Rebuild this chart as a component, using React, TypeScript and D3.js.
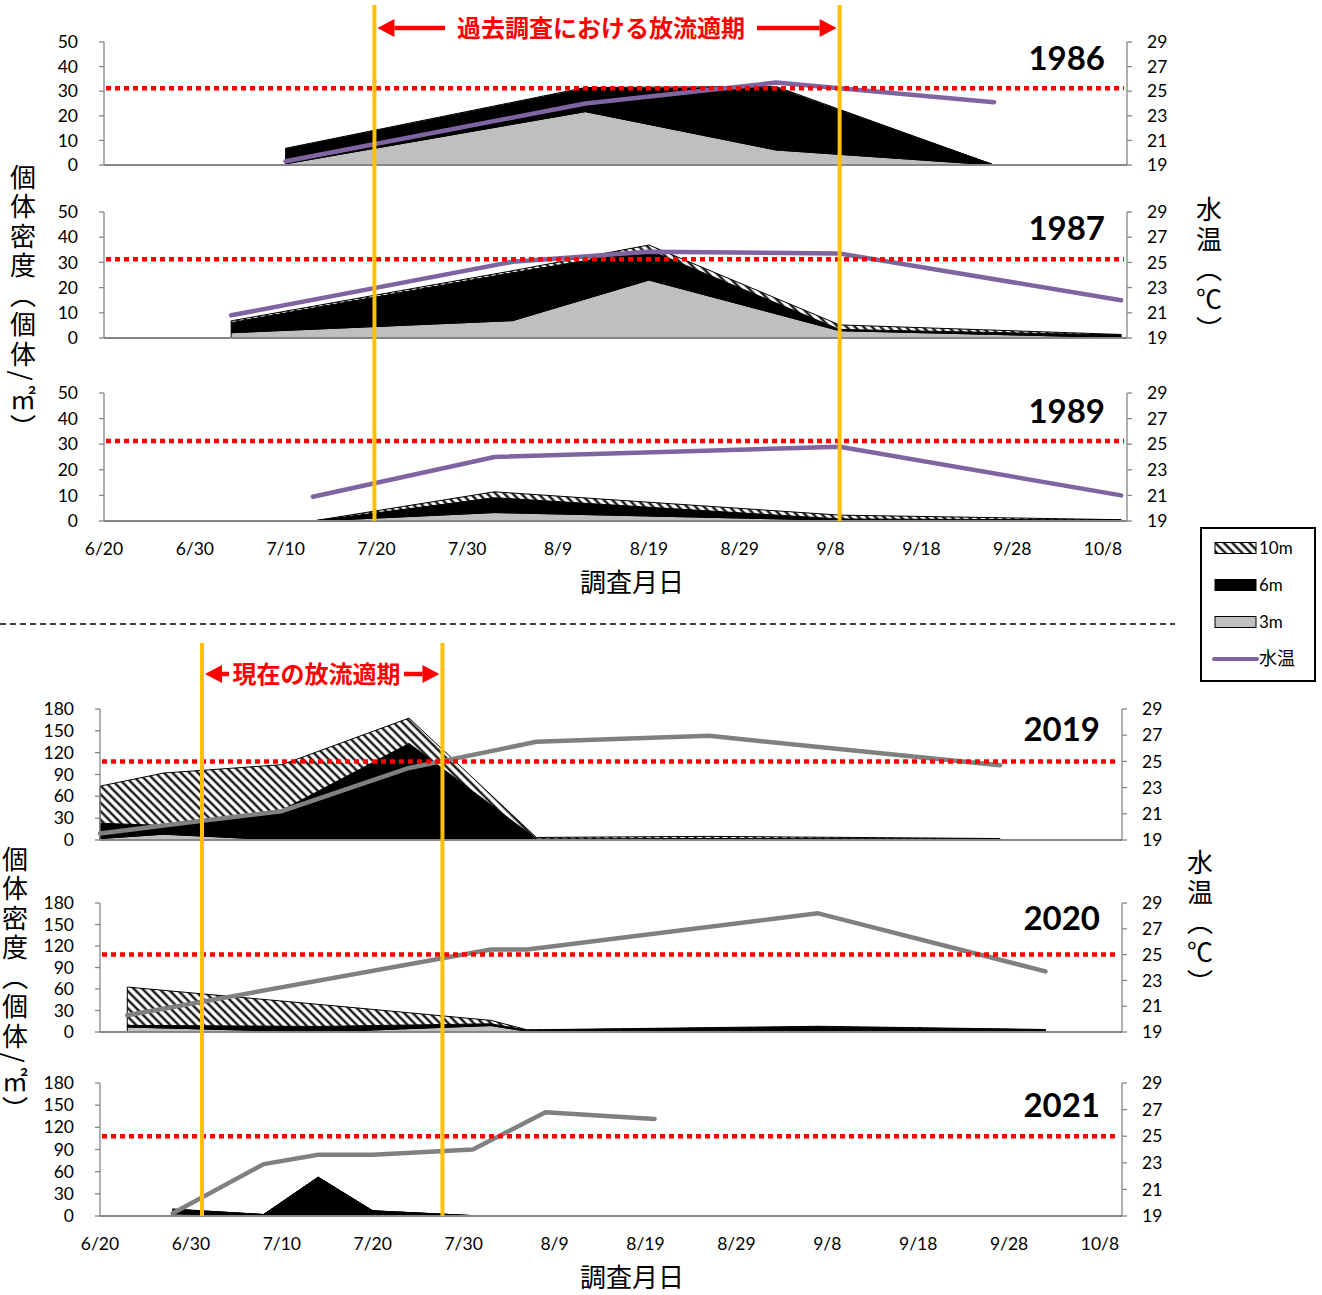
import React from 'react';
import * as d3 from 'd3';

const parseMD = d3.timeParse('%m/%d');
const fmtMD = d3.timeFormat('%-m/%-d');

// axis ticks
const dateTicks = ['6/20', '6/30', '7/10', '7/20', '7/30', '8/9', '8/19', '8/29', '9/8', '9/18', '9/28', '10/8'];
const oldDensTicks = [0, 10, 20, 30, 40, 50];
const newDensTicks = [0, 30, 60, 90, 120, 150, 180];
const tempTicks = [19, 21, 23, 25, 27, 29];
// 25 degree guide (drawn by hand in the original, a touch high in the old panels)
const oldTempRef = 25.25;
const newTempRef = 25;

// release periods
const pastPeriod = ['7/20', '9/9'];
const currentPeriod = ['7/1', '7/28'];

// 1986
const dates1986 = ['7/10', '8/12', '9/2', '9/26'];
const m3_1986 = [0.5, 21.7, 6.1, 0];
const m6_1986 = [6, 9.4, 25.3, 0];
const m10_1986 = [0.3, 0.4, 0.5, 0];
const temp1986 = [19.3, 24.0, 25.7, 24.1];

// 1987
const dates1987 = ['7/4', '8/4', '8/19', '9/9', '10/10'];
const m3_1987 = [2.1, 6.9, 23, 2.9, 0.2];
const m6_1987 = [4.0, 19, 11.9, 0.5, 1.0];
const m10_1987 = [0.7, 0.8, 2.0, 1.8, 0.2];
const temp1987 = [20.8, 25.05, 25.85, 25.7, 22.0];

// 1989
const dates1989 = ['7/13', '8/2', '9/9', '10/10'];
const m3_1989 = [0, 3.3, 0.3, 0.1];
const m6_1989 = [0, 5.8, 0.5, 0.3];
const m10_1989 = [0, 2.3, 1.5, 0.1];
const temp1989 = [20.9, 24.0, 24.8, 21.0];

// 2019
const dates2019 = ['6/20', '6/27', '7/10', '7/24', '8/7', '8/26', '9/27'];
const m3_2019 = [2, 8, 0, 0, 0.5, 0.5, 0.3];
const m6_2019 = [21, 12, 40.8, 132.7, 1, 1.5, 1.2];
const m10_2019 = [51, 72, 62.7, 34.8, 2, 3, 0.5];
const temp2019 = [19.5, 20.1, 21.2, 24.5, 26.5, 26.95, 24.7];

// 2020
const dates2020 = ['6/23', '7/14', '8/2', '8/6', '9/7', '10/2'];
const m3_2020 = [7, 0, 9, 1, 2, 1];
const m6_2020 = [2.3, 7.8, 2.5, 1.5, 5, 2];
const m10_2020 = [53.4, 30.8, 4.7, 0.5, 1, 0.5];
const tempDates2020 = ['6/23', '8/2', '8/6', '9/7', '10/2'];
const temp2020 = [20.3, 25.4, 25.4, 28.2, 23.7];

// 2021
const dates2021 = ['6/28', '7/8', '7/14', '7/20', '7/31', '8/8', '8/20'];
const m3_2021 = [3, 0, 0, 0, 0, 0, 0];
const m6_2021 = [6, 2, 52.5, 7, 0.5, 0, 0];
const m10_2021 = [0.5, 0, 0, 0, 0, 0, 0];
const temp2021 = [19.2, 22.9, 23.6, 23.6, 24.0, 26.8, 26.3];

const oldYears = [
  { year: '1986', dates: dates1986, m3: m3_1986, m6: m6_1986, m10: m10_1986, tempDates: dates1986, temp: temp1986 },
  { year: '1987', dates: dates1987, m3: m3_1987, m6: m6_1987, m10: m10_1987, tempDates: dates1987, temp: temp1987 },
  { year: '1989', dates: dates1989, m3: m3_1989, m6: m6_1989, m10: m10_1989, tempDates: dates1989, temp: temp1989 },
];
const newYears = [
  { year: '2019', dates: dates2019, m3: m3_2019, m6: m6_2019, m10: m10_2019, tempDates: dates2019, temp: temp2019 },
  { year: '2020', dates: dates2020, m3: m3_2020, m6: m6_2020, m10: m10_2020, tempDates: tempDates2020, temp: temp2020 },
  { year: '2021', dates: dates2021, m3: m3_2021, m6: m6_2021, m10: m10_2021, tempDates: dates2021, temp: temp2021 },
];

const NUM_FONT = "Lato, 'Noto Sans', sans-serif";
const JP_FONT = "'Noto Sans CJK JP', sans-serif";
const AXIS_GREY = '#868686';
const PURPLE = '#8064A2';
const GREY_LINE = '#808080';

function Panel({ xs, x0, x1, top, bottom, densMax, densTicks, d, tempColor, yearDy, tempRef }) {
  const y = d3.scaleLinear().domain([0, densMax]).range([bottom, top]);
  const yT = d3.scaleLinear().domain([19, 29]).range([bottom, top]);

  const rows = d.dates.map((s, i) => ({ date: parseMD(s), m3: d.m3[i], m6: d.m6[i], m10: d.m10[i] }));
  const series = d3.stack().keys(['m3', 'm6', 'm10'])(rows);
  const area = d3.area()
    .x(p => xs(p.data.date))
    .y0(p => y(p[0]))
    .y1(p => y(p[1]));
  const fills = ['#BFBFBF', '#000', 'url(#hatch)'];

  const tempLine = d3.line()
    .x(p => xs(parseMD(p[0])))
    .y(p => yT(p[1]));
  const tempPts = d.tempDates.map((s, i) => [s, d.temp[i]]);

  return (
    <g>
      {series.map((s, i) => (
        <path key={i} d={area(s)} fill={fills[i]} stroke="#000" strokeWidth={1} strokeLinejoin="round" />
      ))}
      <path d={tempLine(tempPts)} fill="none" stroke={tempColor} strokeWidth={4.5} strokeLinejoin="round" strokeLinecap="round" />

      {/* left axis */}
      <line x1={x0} x2={x0} y1={top} y2={bottom} stroke={AXIS_GREY} strokeWidth={1.3} />
      {densTicks.map(t => (
        <g key={t}>
          <line x1={x0 - 5} x2={x0} y1={y(t)} y2={y(t)} stroke={AXIS_GREY} strokeWidth={1.3} />
          <text x={x0 - 26} y={y(t)} dy="0.35em" textAnchor="end" fontSize={17.5} fontFamily={NUM_FONT} fill="#000">{t}</text>
        </g>
      ))}
      {/* right axis */}
      <line x1={x1} x2={x1} y1={top} y2={bottom} stroke={AXIS_GREY} strokeWidth={1.3} />
      {tempTicks.map(t => (
        <g key={t}>
          <line x1={x1} x2={x1 + 5} y1={yT(t)} y2={yT(t)} stroke={AXIS_GREY} strokeWidth={1.3} />
          <text x={x1 + 20} y={yT(t)} dy="0.35em" fontSize={17.5} fontFamily={NUM_FONT} fill="#000">{t}</text>
        </g>
      ))}
      {/* bottom axis */}
      <line x1={x0} x2={x1} y1={bottom} y2={bottom} stroke={AXIS_GREY} strokeWidth={2} />

      {/* 25 degree reference */}
      <line x1={x0 + 2} x2={x1 - 3} y1={yT(tempRef)} y2={yT(tempRef)} stroke="#FF0000" strokeWidth={4.5} strokeDasharray="5 4" />

      <text x={x1 - 22} y={top + yearDy} dy="0.35em" textAnchor="end" fontSize={33} fontWeight="bold" fontFamily={NUM_FONT} fill="#000">{d.year}</text>
    </g>
  );
}

function Arrow({ from, to, y }) {
  const dir = to > from ? 1 : -1;
  const hl = 17;
  return (
    <g>
      <line x1={from} x2={to - dir * hl} y1={y} y2={y} stroke="#FF0000" strokeWidth={4.5} />
      <path d={`M${to},${y} L${to - dir * hl},${y - 9} L${to - dir * hl},${y + 9} Z`} fill="#FF0000" />
    </g>
  );
}

function Group({ xs, x0, x1, panels, years, densMax, densTicks, tempColor, tempRef, tickY, titleY, leftTitleX, leftTitleY, rightTitleX, rightTitleY }) {
  return (
    <g>
      {years.map((d, i) => (
        <Panel key={d.year} xs={xs} x0={x0} x1={x1} top={panels[i].top} bottom={panels[i].bottom}
          densMax={densMax} densTicks={densTicks} d={d} tempColor={tempColor} yearDy={panels[i].yearDy} tempRef={tempRef} />
      ))}
      {dateTicks.map(t => (
        <text key={t} x={xs(parseMD(t))} y={tickY} dy="0.35em" textAnchor="middle" fontSize={17.5} fontFamily={NUM_FONT} fill="#000">{fmtMD(parseMD(t))}</text>
      ))}
      <text x={632} y={titleY} dy="0.35em" textAnchor="middle" fontSize={26} fontFamily={JP_FONT} fill="#000">調査月日</text>
      <text x={leftTitleX} y={leftTitleY} fontSize={26} letterSpacing={3.5} fontFamily={JP_FONT} fill="#000" style={{ writingMode: 'vertical-rl' }}>個体密度（個体/㎡）</text>
      <text x={rightTitleX} y={rightTitleY} fontSize={26} letterSpacing={4} fontFamily={JP_FONT} fill="#000" style={{ writingMode: 'vertical-rl' }}>水温（℃）</text>
    </g>
  );
}

export default function App() {
  const start = parseMD('6/20');
  const end = parseMD('10/8');
  const xTop = d3.scaleTime().domain([start, end]).range([104, 1103]);
  const xBot = d3.scaleTime().domain([start, end]).range([100, 1100]);

  const pastL = xTop(parseMD(pastPeriod[0])) - 2;
  const pastR = xTop(parseMD(pastPeriod[1]));
  const curL = xBot(parseMD(currentPeriod[0])) + 2;
  const curR = xBot(parseMD(currentPeriod[1])) - 3;

  return (
    <svg width={1322} height={1295} style={{ position: 'absolute', left: 0, top: 0, background: '#fff' }}>
      <defs>
        <pattern id="hatch" width={6} height={6} patternUnits="userSpaceOnUse" patternTransform="rotate(-45)">
          <rect width={6} height={6} fill="#fff" />
          <line x1={1.5} x2={1.5} y1={0} y2={6} stroke="#000" strokeWidth={2.2} />
        </pattern>
      </defs>
      <rect width={1322} height={1295} fill="#fff" />

      <Group xs={xTop} x0={104} x1={1127}
        panels={[{ top: 42, bottom: 165, yearDy: 16 }, { top: 212, bottom: 338, yearDy: 16 }, { top: 393, bottom: 521, yearDy: 18 }]}
        years={oldYears} densMax={50} densTicks={oldDensTicks} tempColor={PURPLE} tempRef={oldTempRef}
        tickY={549} titleY={583} leftTitleX={23} leftTitleY={164} rightTitleX={1209} rightTitleY={196} />

      <line x1={0} x2={1175} y1={624} y2={624} stroke="#000" strokeWidth={1.3} strokeDasharray="6 4" />

      <Group xs={xBot} x0={100} x1={1122}
        panels={[{ top: 709, bottom: 840, yearDy: 20 }, { top: 903, bottom: 1032, yearDy: 15 }, { top: 1083, bottom: 1216, yearDy: 22 }]}
        years={newYears} densMax={180} densTicks={newDensTicks} tempColor={GREY_LINE} tempRef={newTempRef}
        tickY={1244} titleY={1278} leftTitleX={15} leftTitleY={846} rightTitleX={1200} rightTitleY={849} />

      {/* release period markers */}
      <line x1={pastL} x2={pastL} y1={5} y2={521} stroke="#FFC000" strokeWidth={4} />
      <line x1={pastR} x2={pastR} y1={5} y2={521} stroke="#FFC000" strokeWidth={4} />
      <Arrow from={445} to={pastL + 3} y={28} />
      <Arrow from={757} to={pastR - 3} y={28} />
      <text x={(445 + 757) / 2} y={28} dy="0.36em" textAnchor="middle" fontSize={24} fontWeight="bold" fontFamily={JP_FONT} fill="#FF0000">過去調査における放流適期</text>

      <line x1={curL} x2={curL} y1={643} y2={1216} stroke="#FFC000" strokeWidth={4} />
      <line x1={curR} x2={curR} y1={643} y2={1216} stroke="#FFC000" strokeWidth={4} />
      <Arrow from={229} to={curL + 3} y={674} />
      <Arrow from={404} to={curR - 3} y={674} />
      <text x={(229 + 404) / 2} y={674} dy="0.36em" textAnchor="middle" fontSize={24} fontWeight="bold" fontFamily={JP_FONT} fill="#FF0000">現在の放流適期</text>

      {/* legend */}
      <g>
        <rect x={1201} y={528} width={114} height={153} fill="#fff" stroke="#000" strokeWidth={2} />
        {[
          { label: '10m', fill: 'url(#hatch)', cy: 548 },
          { label: '6m', fill: '#000', cy: 585 },
          { label: '3m', fill: '#BFBFBF', cy: 622 },
        ].map(it => (
          <g key={it.label}>
            <rect x={1215} y={it.cy - 5.5} width={41} height={11} fill={it.fill} stroke="#000" strokeWidth={1} />
            <text x={1259} y={it.cy} dy="0.36em" fontSize={17} fontFamily={NUM_FONT} fill="#000">{it.label}</text>
          </g>
        ))}
        <line x1={1214} x2={1257} y1={659} y2={659} stroke={PURPLE} strokeWidth={4} strokeLinecap="round" />
        <text x={1259} y={659} dy="0.36em" fontSize={18} fontFamily={JP_FONT} fill="#000">水温</text>
      </g>
    </svg>
  );
}
